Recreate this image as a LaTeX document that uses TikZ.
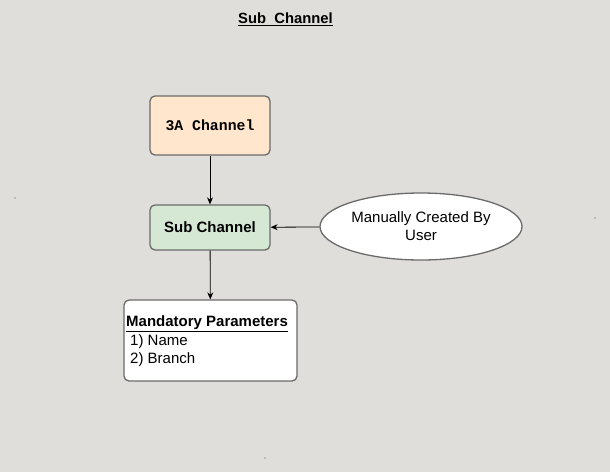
\documentclass[tikz,border=0pt]{standalone}
\usepackage{fontspec}
\setmainfont{Liberation Sans}
\setmonofont{Liberation Mono}
\usetikzlibrary{shapes.geometric,arrows.meta}
\definecolor{bg}{HTML}{DFDEDA}
\definecolor{orangef}{HTML}{FFE6CC}
\definecolor{greenf}{HTML}{D5E8D4}
\definecolor{bord}{HTML}{6B6B6B}
\tikzset{
  box/.style={draw=bord, line width=1.3pt, rounded corners=5pt, inner sep=0pt},
  conn/.style={draw=black, line width=0.8pt, -{Stealth[length=7pt,width=6pt]}},
}
\begin{document}
\begin{tikzpicture}[x=1pt,y=-1pt]
\fill[bg] (0,0) rectangle (610,472);
\useasboundingbox (0,0) rectangle (610,472);
\node[font=\fontsize{14.8}{17}\selectfont\bfseries] (title) at (285.5,19) {\underline{Sub\ \ Channel}};
\node[box, fill=orangef, minimum width=120pt, minimum height=59pt, font=\ttfamily\bfseries\fontsize{14.8}{17}\selectfont] (a3) at (210,125.5) {3A Channel};
\node[box, fill=greenf, minimum width=120pt, minimum height=45pt, font=\bfseries\fontsize{15}{17}\selectfont] (sub) at (210,227.5) {\raisebox{1pt}{Sub Channel}};
\node[ellipse, draw=bord, line width=1.3pt, fill=white, minimum width=202pt, minimum height=67pt, inner sep=0pt, align=center, font=\fontsize{15}{18}\selectfont] (man) at (421,226.5) {Manually Created By\\User};
\node[box, fill=white, minimum width=173pt, minimum height=81pt] (mp) at (210.5,340.5) {};
\node[anchor=west, inner sep=0pt, font=\fontsize{15}{17}\selectfont\bfseries] (mpt) at (126,324) {\underline{Mandatory Parameters}};
\node[anchor=west, inner sep=0pt, font=\fontsize{15}{17}\selectfont] (n1) at (130,342) {1) Name};
\node[anchor=west, inner sep=0pt, font=\fontsize{15}{17}\selectfont] (n2) at (130,360) {2) Branch};
\draw[conn] (a3) -- (sub);
\draw[conn] (sub) -- (mp);
\draw[conn] (man) -- (sub);
\fill[black!70] (15,198) circle (0.6pt);
\fill[black!70] (595,218) circle (0.6pt);
\fill[black!70] (265,458) circle (0.6pt);
\end{tikzpicture}
\end{document}
